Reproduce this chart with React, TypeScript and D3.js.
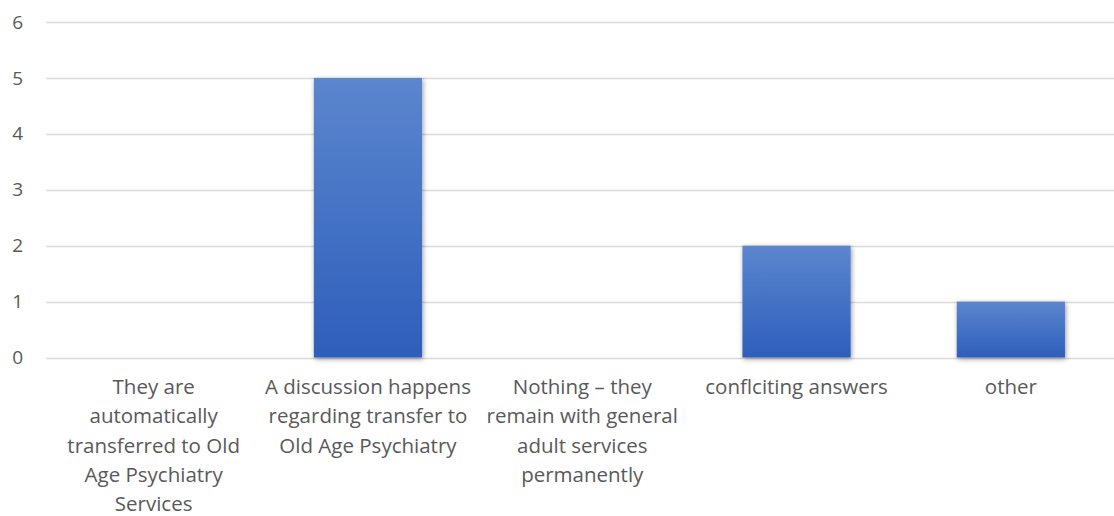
import React, { useEffect, useRef } from "react";
import * as d3 from "d3";

// Survey responses: what happens when a patient reaches old age
const categories: string[][] = [
  ["They are", "automatically", "transferred to Old", "Age Psychiatry", "Services"],
  ["A discussion happens", "regarding transfer to", "Old Age Psychiatry"],
  ["Nothing \u2013 they", "remain with general", "adult services", "permanently"],
  ["conflciting answers"],
  ["other"],
];
const counts: number[] = [0, 5, 0, 2, 1];
const yTicks: number[] = [0, 1, 2, 3, 4, 5, 6];

const W = 1114;
const H = 516;
const FONT = "'Open Sans', Lato, sans-serif";

export default function App() {
  const ref = useRef<SVGSVGElement>(null);

  useEffect(() => {
    const svg = d3.select(ref.current);
    svg.selectAll("*").remove();

    const x = d3
      .scaleBand<number>()
      .domain(d3.range(categories.length))
      .range([46.5, 1118])
      .paddingInner(0.495)
      .paddingOuter(0.2475);
    const y = d3.scaleLinear().domain([0, 6]).range([357.5, 22]);

    const defs = svg.append("defs");
    const grad = defs
      .append("linearGradient")
      .attr("id", "barFill")
      .attr("x1", 0)
      .attr("y1", 0)
      .attr("x2", 0)
      .attr("y2", 1);
    grad.append("stop").attr("offset", "0%").attr("stop-color", "#5C86CE");
    grad.append("stop").attr("offset", "100%").attr("stop-color", "#2D5EBB");

    const shadow = defs
      .append("filter")
      .attr("id", "barShadow")
      .attr("x", "-20%")
      .attr("y", "-20%")
      .attr("width", "140%")
      .attr("height", "140%");
    shadow
      .append("feDropShadow")
      .attr("dx", 1)
      .attr("dy", 1.5)
      .attr("stdDeviation", 2.4)
      .attr("flood-color", "#000")
      .attr("flood-opacity", 0.4);

    // horizontal gridlines
    svg
      .append("g")
      .selectAll("line")
      .data(yTicks)
      .join("line")
      .attr("x1", 46.5)
      .attr("x2", W)
      .attr("y1", (d) => Math.round(y(d)) + 0.5)
      .attr("y2", (d) => Math.round(y(d)) + 0.5)
      .attr("stroke", "#D9D9D9")
      .attr("stroke-width", 1.3);

    // y tick labels
    svg
      .append("g")
      .selectAll("text")
      .data(yTicks)
      .join("text")
      .attr("x", 23)
      .attr("y", (d) => y(d))
      .attr("dy", "0.35em")
      .attr("text-anchor", "end")
      .attr("fill", "#595959")
      .attr("font-family", FONT)
      .attr("font-size", 19)
      .text((d) => String(d));

    // bars
    svg
      .append("g")
      .selectAll("rect")
      .data(counts.map((v, i) => ({ v, i })).filter((d) => d.v > 0))
      .join("rect")
      .attr("x", (d) => x(d.i)!)
      .attr("width", x.bandwidth())
      .attr("y", (d) => y(d.v))
      .attr("height", (d) => y(0) - y(d.v))
      .attr("fill", "url(#barFill)")
      .attr("filter", "url(#barShadow)");

    // category labels
    const labels = svg
      .append("g")
      .selectAll("text")
      .data(categories.map((lines, i) => ({ lines, i })))
      .join("text")
      .attr("text-anchor", "middle")
      .attr("fill", "#595959")
      .attr("font-family", FONT)
      .attr("font-size", 20.5)
      .attr("transform", (d) => `translate(${x(d.i)! + x.bandwidth() / 2},0)`);
    labels
      .selectAll("tspan")
      .data((d) => d.lines)
      .join("tspan")
      .attr("x", 0)
      .attr("y", (_, j) => 394 + j * 29.3)
      .text((d) => d);
  }, []);

  return (
    <div style={{ position: "fixed", left: 0, top: 0, background: "#fff" }}>
      <svg ref={ref} width={W} height={H} style={{ display: "block" }} />
    </div>
  );
}
